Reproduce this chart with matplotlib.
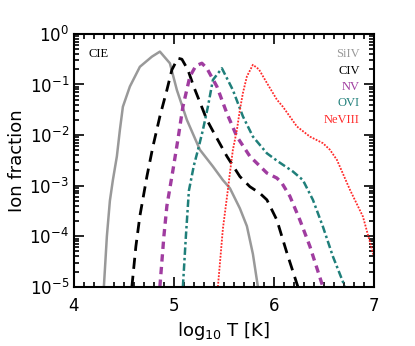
import matplotlib
matplotlib.use('Agg')
import matplotlib.pyplot as plt
from matplotlib.ticker import MultipleLocator, LogLocator, NullFormatter

# log10 T and log10 ion fraction
t_si4 = [4.30, 4.33, 4.36, 4.39, 4.43, 4.46, 4.49, 4.56, 4.66, 4.78, 4.86, 4.96, 5.03, 5.13, 5.26, 5.39,
         5.49, 5.56, 5.66, 5.73, 5.79, 5.84]
f_si4 = [-5.0, -4.0, -3.3, -2.89, -2.42, -1.90, -1.44, -1.04, -0.65, -0.45, -0.35, -0.58, -1.11, -1.70, -2.29, -2.62,
         -2.89, -3.05, -3.45, -3.80, -4.35, -5.0]

t_c4 = [4.58, 4.62, 4.66, 4.73, 4.79, 4.86, 4.93, 4.98, 5.04, 5.08, 5.14, 5.20, 5.26, 5.33, 5.39, 5.53, 5.66,
        5.76, 5.86, 5.93, 6.03, 6.13, 6.24]
f_c4 = [-5.0, -4.2, -3.6, -2.82, -2.23, -1.63, -1.11, -0.71, -0.48, -0.50, -0.71, -1.05, -1.35, -1.70, -1.92, -2.42, -2.82,
        -3.02, -3.15, -3.28, -3.68, -4.33, -5.0]

t_n5 = [4.86, 4.90, 4.93, 4.99, 5.04, 5.09, 5.16, 5.22, 5.28, 5.33, 5.43, 5.53, 5.63, 5.76, 5.93, 6.03, 6.08,
        6.16, 6.26, 6.36, 6.49]
f_n5 = [-5.0, -4.0, -3.4, -2.70, -2.09, -1.44, -0.84, -0.63, -0.58, -0.68, -1.04, -1.57, -2.03, -2.42, -2.75, -2.85, -2.95,
        -3.21, -3.68, -4.20, -5.0]

t_o6 = [5.09, 5.12, 5.15, 5.20, 5.24, 5.29, 5.34, 5.39, 5.48, 5.59, 5.69, 5.79, 5.93, 6.04, 6.19, 6.29, 6.39,
        6.49, 6.59, 6.71]
f_o6 = [-5.0, -4.0, -3.1, -2.6, -2.3, -1.90, -1.44, -0.91, -0.68, -1.11, -1.63, -2.03, -2.36, -2.52, -2.72, -2.89, -3.28,
        -3.81, -4.40, -5.0]

t_ne8 = [5.44, 5.49, 5.54, 5.56, 5.59, 5.63, 5.66, 5.69, 5.73, 5.79, 5.85, 5.93, 6.03, 6.09, 6.23, 6.36, 6.49,
         6.56, 6.63, 6.76, 6.89, 6.99, 7.00]
f_ne8 = [-5.0, -3.85, -3.08, -2.75, -2.29, -1.90, -1.50, -1.17, -0.84, -0.61, -0.70, -0.97, -1.30, -1.44, -1.83, -2.03, -2.16,
         -2.29, -2.49, -3.08, -3.61, -4.33, -4.40]

ions = ['SiIV', 'CIV', 'NV', 'OVI', 'NeVIII']
colors = ['#999999', 'black', '#a03ca0', '#1f7f7a', '#ff2a2a']

fig = plt.figure(figsize=(4.15, 3.46), dpi=100)
ax = fig.add_axes([0.178, 0.171, 0.723, 0.731])

curves = [(t_si4, f_si4), (t_c4, f_c4), (t_n5, f_n5), (t_o6, f_o6), (t_ne8, f_ne8)]
styles = [
    dict(ls='-', lw=1.8),
    dict(ls=(0, (4, 2.5)), lw=2.0),
    dict(ls=(0, (2.2, 1.6)), lw=2.4),
    dict(ls=(0, (3, 1.2, 1, 1.2)), lw=1.8),
    dict(ls=(0, (1, 0.8)), lw=1.3),
]
for (t, f), c, st in zip(curves, colors, styles):
    ax.plot(t, [10.0 ** v for v in f], color=c, **st)

ax.set_yscale('log')
ax.set_xlim(4, 7)
ax.set_ylim(1e-5, 1)
ax.xaxis.set_major_locator(MultipleLocator(1))
ax.xaxis.set_minor_locator(MultipleLocator(0.1))
ax.yaxis.set_major_locator(LogLocator(base=10, numticks=10))
ax.yaxis.set_minor_locator(LogLocator(base=10, subs=range(2, 10), numticks=10))
ax.yaxis.set_minor_formatter(NullFormatter())
ax.tick_params(which='both', direction='in', top=True, right=True, width=1.2, labelsize=12)
ax.tick_params(which='major', length=7)
ax.tick_params(which='minor', length=3.5)
ax.tick_params(axis='x', pad=7)
for s in ax.spines.values():
    s.set_linewidth(1.5)

ax.set_xlabel(r'log$_{10}$ T [K]', fontsize=13, family='DejaVu Sans')
ax.set_ylabel('Ion fraction', fontsize=13, labelpad=2)

ax.text(0.05, 0.92, 'CIE', transform=ax.transAxes, fontsize=9, family='Liberation Serif', va='center')
for i, (name, c) in enumerate(zip(ions, colors)):
    ax.text(0.953, 0.92 - i * 0.065, name, transform=ax.transAxes, fontsize=9,
            family='Liberation Serif', color=c, ha='right', va='center')

fig.savefig('out.png', dpi=100)
